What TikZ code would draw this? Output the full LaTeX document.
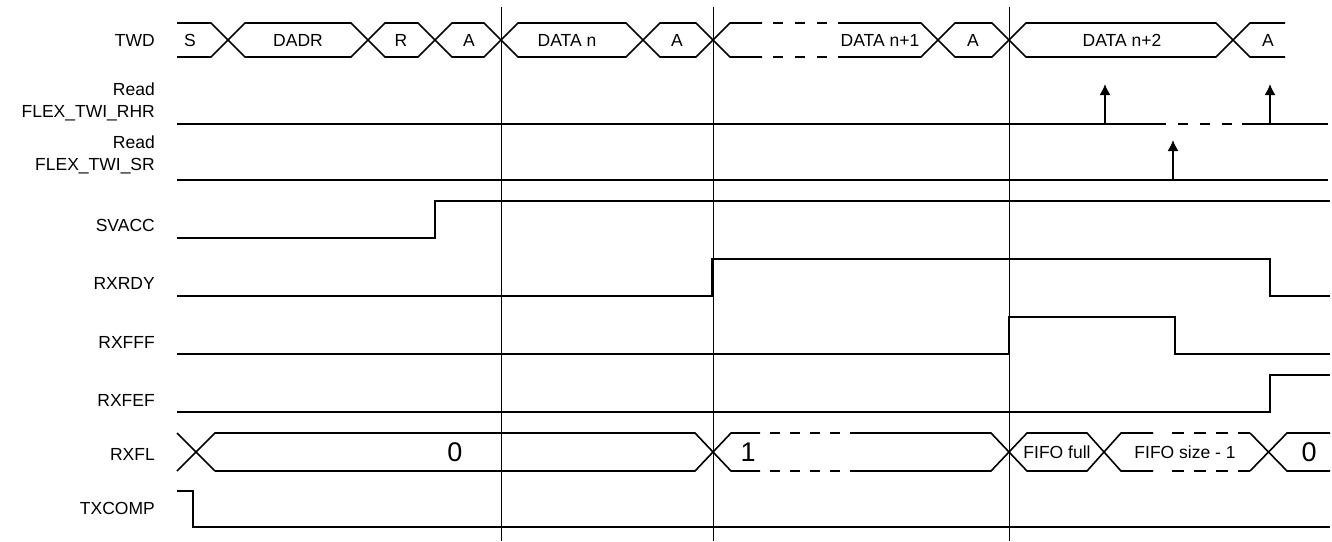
\documentclass[tikz,border=0pt]{standalone}
\usepackage{fontspec}
\setmainfont{Liberation Sans}
\usetikzlibrary{arrows.meta}

\begin{document}
\begin{tikzpicture}[
  x=1pt, y=-1pt,
  wave/.style={line width=1.6pt, line join=miter},
  dashwave/.style={line width=1.6pt, dash pattern=on 10pt off 12pt},
  grid/.style={line width=0.8pt},
  sig/.style={anchor=east, font=\fontsize{17.5}{22}\selectfont, align=right, inner sep=2pt},
  val/.style={font=\fontsize{17.5}{21}\selectfont, inner sep=1pt},
  big/.style={font=\fontsize{27}{30}\selectfont, inner sep=1pt},
  rd/.style={-{Latex[length=11pt,width=11pt]}, line width=1.6pt}
]
\useasboundingbox (0,0) rectangle (1332,541);

% signal names
\node[sig] (nTWD) at (157,40) {TWD};
\node[sig] (nRHR) at (157,102) {Read\\FLEX\_TWI\_RHR};
\node[sig] (nSR)  at (157,155) {Read\\FLEX\_TWI\_SR};
\node[sig] (nSVACC) at (157,225) {SVACC};
\node[sig] (nRXRDY) at (157,283) {RXRDY};
\node[sig] (nRXFFF) at (157,342) {RXFFF};
\node[sig] (nRXFEF) at (157,400) {RXFEF};
\node[sig] (nRXFL) at (157,454) {RXFL};
\node[sig] (nTXCOMP) at (157,508) {TXCOMP};

% time marks
\foreach \t in {501,713,1009}
  \draw[grid] (\t,7) -- (\t,541);

% TWD bus
\draw[wave] (177,23) -- (211,23) -- (228,40) -- (211,57) -- (177,57);
\foreach \a/\b in {228/368, 368/435, 435/501, 501/643, 643/713, 938/1009, 1009/1233}
  \draw[wave] (\a,40) -- (\a+17,23) -- (\b-17,23) -- (\b,40) -- (\b-17,57) -- (\a+17,57) -- cycle;
\draw[wave] (762,23) -- (730,23) -- (713,40) -- (730,57) -- (762,57);
\draw[dashwave] (773,23) -- (828,23);
\draw[dashwave] (773,57) -- (828,57);
\draw[wave] (838,23) -- (921,23) -- (938,40) -- (921,57) -- (838,57);
\draw[wave] (1285,23) -- (1250,23) -- (1233,40) -- (1250,57) -- (1285,57);
\node[val] (tS) at (190,40) {S};
\node[val] (tDADR) at (298,40) {DADR};
\node[val] (tR) at (401,40) {R};
\node[val] (tA1) at (469,40) {A};
\node[val] (tD0) at (567,40) {DATA n};
\node[val] (tA2) at (677,40) {A};
\node[val] (tD1) at (880,40) {DATA n+1};
\node[val] (tA3) at (973,40) {A};
\node[val] (tD2) at (1122,40) {DATA n+2};
\node[val] (tA4) at (1268,40) {A};

% register reads
\draw[wave] (177,124) -- (1166,124);
\draw[dashwave] (1178,124) -- (1233,124);
\draw[wave] (1242,124) -- (1328,124);
\draw[rd] (1105,124) -- (1105,84);
\draw[rd] (1270,124) -- (1270,84);
\draw[wave] (177,180) -- (1328,180);
\draw[rd] (1173,180) -- (1173,140);

% status flags
\draw[wave] (177,238) -- (435,238) -- (435,201) -- (1330,201);
\draw[wave] (177,296) -- (712,296) -- (712,259) -- (1270,259) -- (1270,296) -- (1330,296);
\draw[wave] (177,354) -- (1009,354) -- (1009,317) -- (1175,317) -- (1175,354) -- (1330,354);
\draw[wave] (177,412) -- (1270,412) -- (1270,375) -- (1330,375);

% RXFL bus
\draw[wave] (177,433) -- (215,471);
\draw[wave] (177,471) -- (215,433) -- (695,433) -- (731,471) -- (760,471);
\draw[wave] (215,471) -- (695,471) -- (731,433) -- (760,433);
\draw[dashwave, dash pattern=on 10pt off 10pt] (770,433) -- (840,433);
\draw[dashwave, dash pattern=on 10pt off 10pt] (770,471) -- (840,471);
\draw[wave] (850,433) -- (991,433) -- (1027,471) -- (1087,471) -- (1121,433) -- (1153,433);
\draw[wave] (850,471) -- (991,471) -- (1027,433) -- (1087,433) -- (1121,471) -- (1153,471);
\draw[dashwave, dash pattern=on 12pt off 10pt] (1250,433) -- (1164,433);
\draw[dashwave, dash pattern=on 12pt off 10pt] (1250,471) -- (1164,471);
\draw[wave] (1250,433) -- (1287,471) -- (1330,471);
\draw[wave] (1250,471) -- (1287,433) -- (1330,433);
\node[big] (v0) at (455,452) {0};
\node[big] (v1) at (748,452) {1};
\node[val] (vFull) at (1057,452) {FIFO full};
\node[val] (vSize) at (1185,452) {FIFO size - 1};
\node[big] (vEnd) at (1309,452) {0};

% TXCOMP
\draw[wave] (177,491) -- (193,491) -- (193,527) -- (1330,527);
\end{tikzpicture}
\end{document}
